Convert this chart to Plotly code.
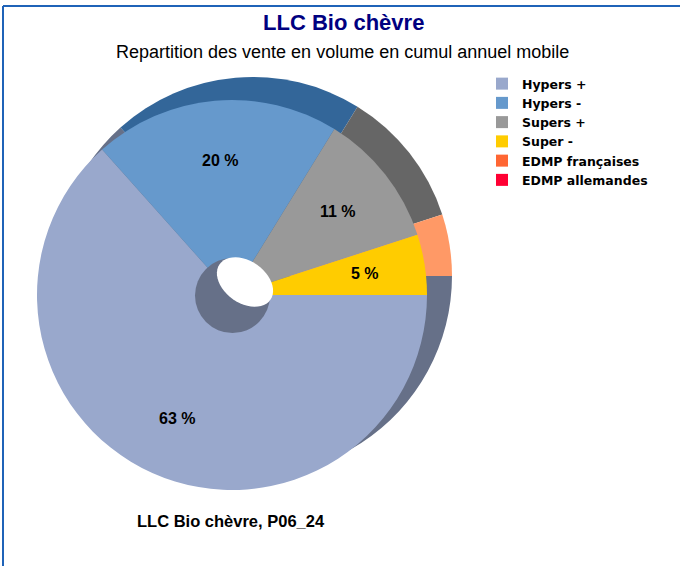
import math
import plotly.graph_objects as go

W, H = 680, 566

labels = ["Hypers +", "Hypers -", "Supers +", "Super -", "EDMP françaises", "EDMP allemandes"]
values = [63.4, 20.4, 11.2, 5.0, 0.0, 0.0]
pct_text = ["63 %", "20 %", "11 %", "5 %", "", ""]

front_colors = ["#99A8CC", "#6699CC", "#999999", "#FFCC00", "#FF6633", "#FF0033"]
rim_colors = ["#667088", "#336699", "#666666", "#FF9966", "#FF9966", "#CC0029"]

# pie geometry in pixels
CX, CY, R = 232, 295, 195
LABEL_R = 135


def px_dom(cx, cy, r):
    # pixel centre/radius -> paper domain
    return dict(x=[(cx - r) / W, (cx + r) / W], y=[1 - (cy + r) / H, 1 - (cy - r) / H])


def tilted_ellipse(cx, cy, a, b, deg, n=48):
    # svg path in paper coords for a rotated ellipse given in pixels
    t = math.radians(deg)
    pts = []
    for i in range(n):
        u = 2 * math.pi * i / n
        x = cx + a * math.cos(u) * math.cos(t) - b * math.sin(u) * math.sin(t)
        y = cy + a * math.cos(u) * math.sin(t) + b * math.sin(u) * math.cos(t)
        pts.append("%.5f,%.5f" % (x / W, 1 - y / H))
    return "M" + " L".join(pts) + " Z"


fig = go.Figure()

# back pie = 3D rim
fig.add_trace(go.Pie(
    labels=labels, values=values, sort=False, direction="clockwise", rotation=90,
    marker=dict(colors=rim_colors, line=dict(width=0)),
    textinfo="none", hoverinfo="skip", showlegend=False,
    domain=px_dom(CX + 21, CY - 19, R + 4),
))

# front pie
fig.add_trace(go.Pie(
    labels=labels, values=values, sort=False, direction="clockwise", rotation=90,
    marker=dict(colors=front_colors, line=dict(width=0)),
    textinfo="none",
    domain=px_dom(CX, CY, R),
))

shapes = [
    # hole wall
    dict(type="circle", xref="paper", yref="paper",
         x0=195 / W, x1=270 / W, y0=1 - 333 / H, y1=1 - 258 / H,
         fillcolor="#667088", line=dict(width=0)),
    # hole opening
    dict(type="path", xref="paper", yref="paper",
         path=tilted_ellipse(245, 282, 31, 21, 35),
         fillcolor="white", line=dict(width=0)),
    # frame lines (top and left)
    dict(type="line", xref="paper", yref="paper", x0=3 / W, x1=1, y0=1 - 6 / H, y1=1 - 6 / H,
         line=dict(color="#1F63B8", width=2)),
    dict(type="line", xref="paper", yref="paper", x0=3 / W, x1=3 / W, y0=0, y1=1 - 6 / H,
         line=dict(color="#1F63B8", width=2)),
]

annotations = [
    dict(text="<b>LLC Bio chèvre</b>", x=343 / W, y=1 - 22 / H, xref="paper", yref="paper",
         yanchor="middle", showarrow=False,
         font=dict(family="Liberation Sans", size=22, color="#000080")),
    dict(text="Repartition des vente en volume en cumul annuel mobile", x=342 / W, y=1 - 52 / H,
         xref="paper", yref="paper", yanchor="middle", showarrow=False,
         font=dict(family="Liberation Sans", size=18, color="black")),
    dict(text="<b>LLC Bio chèvre, P06_24</b>", x=231 / W, y=1 - 521 / H, xref="paper", yref="paper",
         yanchor="middle", showarrow=False,
         font=dict(family="Liberation Sans", size=16.5, color="black")),
]

# slice labels at a fixed radius on each slice's mid-angle
total = sum(values)
cum = 0.0
for v, t in zip(values, pct_text):
    mid = (cum + v / 2) / total
    cum += v
    if not t:
        continue
    ang = -2 * math.pi * mid
    lx = CX + LABEL_R * math.cos(ang)
    ly = CY - LABEL_R * math.sin(ang)
    annotations.append(dict(
        text="<b>%s</b>" % t, x=lx / W, y=1 - ly / H, xref="paper", yref="paper",
        xanchor="center", yanchor="middle", showarrow=False,
        font=dict(family="Liberation Sans", size=16, color="black")))

fig.update_layout(
    width=W, height=H,
    margin=dict(l=0, r=0, t=0, b=0),
    paper_bgcolor="white", plot_bgcolor="white",
    shapes=shapes, annotations=annotations,
    legend=dict(x=482 / W, y=1 - 69 / H, xanchor="left", yanchor="top",
                font=dict(family="DejaVu Sans", size=12.5, color="black", weight="bold"),
                bgcolor="rgba(0,0,0,0)"),
)

fig.write_html("out.html", config={"displayModeBar": False},
               post_script="document.body.style.margin='0';")
